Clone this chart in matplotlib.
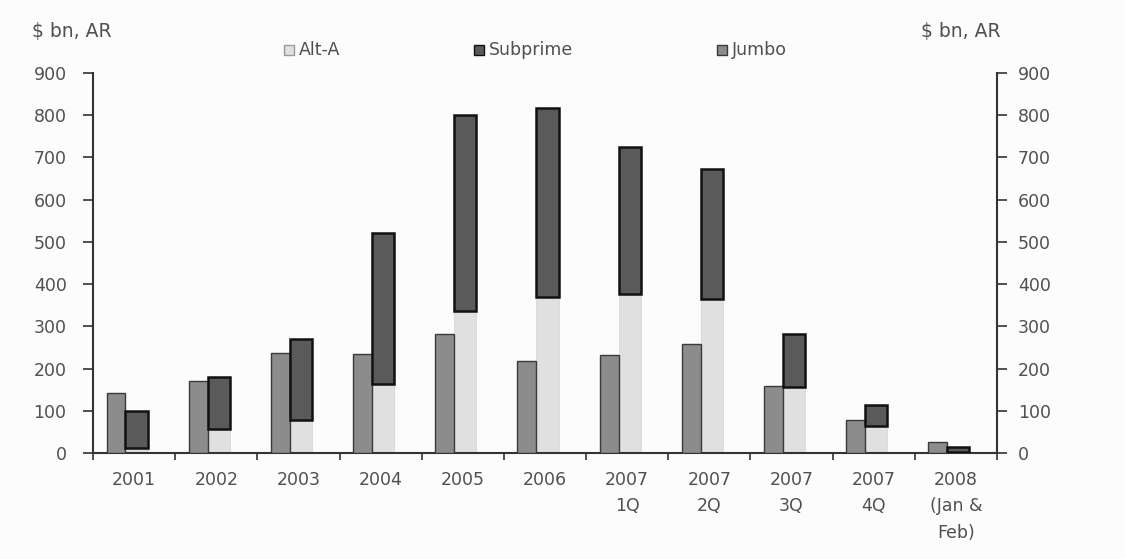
import matplotlib
matplotlib.use("Agg")
import matplotlib.pyplot as plt
import numpy as np

plt.rcParams['font.family'] = ['DejaVu Sans']

periods = ["2001", "2002", "2003", "2004", "2005", "2006",
           "2007\n1Q", "2007\n2Q", "2007\n3Q", "2007\n4Q", "2008\n(Jan &\nFeb)"]
jumbo = [143, 170, 238, 234, 283, 218, 232, 257, 159, 78, 27]
alt_a = [11, 58, 77, 163, 337, 370, 377, 365, 157, 65, 3]
subprime = [88, 121, 192, 357, 463, 447, 348, 308, 126, 49, 12]
y_ticks = [0, 100, 200, 300, 400, 500, 600, 700, 800, 900]

TXT = "#505050"
FS = 12.5

fig = plt.figure(figsize=(11.25, 5.59), dpi=100)
fig.patch.set_facecolor("#fcfcfc")
ax = fig.add_axes([93 / 1125, 1 - 453 / 559, 904 / 1125, 380 / 559])
ax.set_facecolor("none")

x = np.arange(len(periods))
jw, sw = 0.23, 0.27
jx, sx = -0.22, 0.03

ax.bar(x + jx, jumbo, width=jw, color="#8c8c8c", edgecolor="#3a3a3a", linewidth=1.0, zorder=3)
ax.bar(x + sx, alt_a, width=sw, color="#e0e0e0", edgecolor="#d4d4d4", linewidth=0.5, zorder=2)
ax.bar(x + sx, subprime, bottom=alt_a, width=sw, color="#5a5a5a", edgecolor="#111111", linewidth=1.8, zorder=3)

ax.set_xlim(-0.5, len(periods) - 0.5)
ax.set_ylim(0, 900)
ax.set_yticks(y_ticks)
ax.set_yticklabels([str(v) for v in y_ticks], fontsize=FS, color=TXT)
ax.set_xticks(x)
ax.set_xticklabels(periods, fontsize=FS, color=TXT, linespacing=1.6, va="top")
ax.set_xticks(np.arange(len(periods) + 1) - 0.5, minor=True)
ax.tick_params(axis="x", which="major", length=0, pad=13)
ax.tick_params(axis="x", which="minor", length=5, width=1.2, color="#333333", direction="out")
ax.tick_params(axis="y", length=7, width=1.2, color="#333333", direction="out", pad=12)

for side in ["top", "right"]:
    ax.spines[side].set_visible(False)
for side in ["left", "bottom"]:
    ax.spines[side].set_color("#333333")
    ax.spines[side].set_linewidth(1.5)

ax2 = ax.twinx()
ax2.set_ylim(0, 900)
ax2.set_yticks(y_ticks)
ax2.set_yticklabels([str(v) for v in y_ticks], fontsize=FS, color=TXT)
ax2.tick_params(axis="y", length=7, width=1.2, color="#333333", direction="out", pad=8)
for side in ["top", "left", "bottom"]:
    ax2.spines[side].set_visible(False)
ax2.spines["right"].set_color("#333333")
ax2.spines["right"].set_linewidth(1.5)

fig.text(32 / 1125, 1 - 32 / 559, "$ bn, AR", fontsize=13.5, color=TXT, va="center", ha="left")
fig.text(921 / 1125, 1 - 32 / 559, "$ bn, AR", fontsize=13.5, color=TXT, va="center", ha="left")

# legend entries
legend_items = [("Alt-A", "#e0e0e0", "#999999", 284),
                ("Subprime", "#5a5a5a", "#111111", 474),
                ("Jumbo", "#8c8c8c", "#3a3a3a", 717)]
for label, fc, ec, px in legend_items:
    fig.patches.append(plt.Rectangle((px / 1125, 1 - 55 / 559), 10 / 1125, 10 / 559,
                                     transform=fig.transFigure, facecolor=fc,
                                     edgecolor=ec, linewidth=1.0))
    fig.text((px + 15) / 1125, 1 - 50 / 559, label, fontsize=FS, color=TXT,
             va="center", ha="left")

fig.savefig("out.png", dpi=100, facecolor=fig.get_facecolor())
